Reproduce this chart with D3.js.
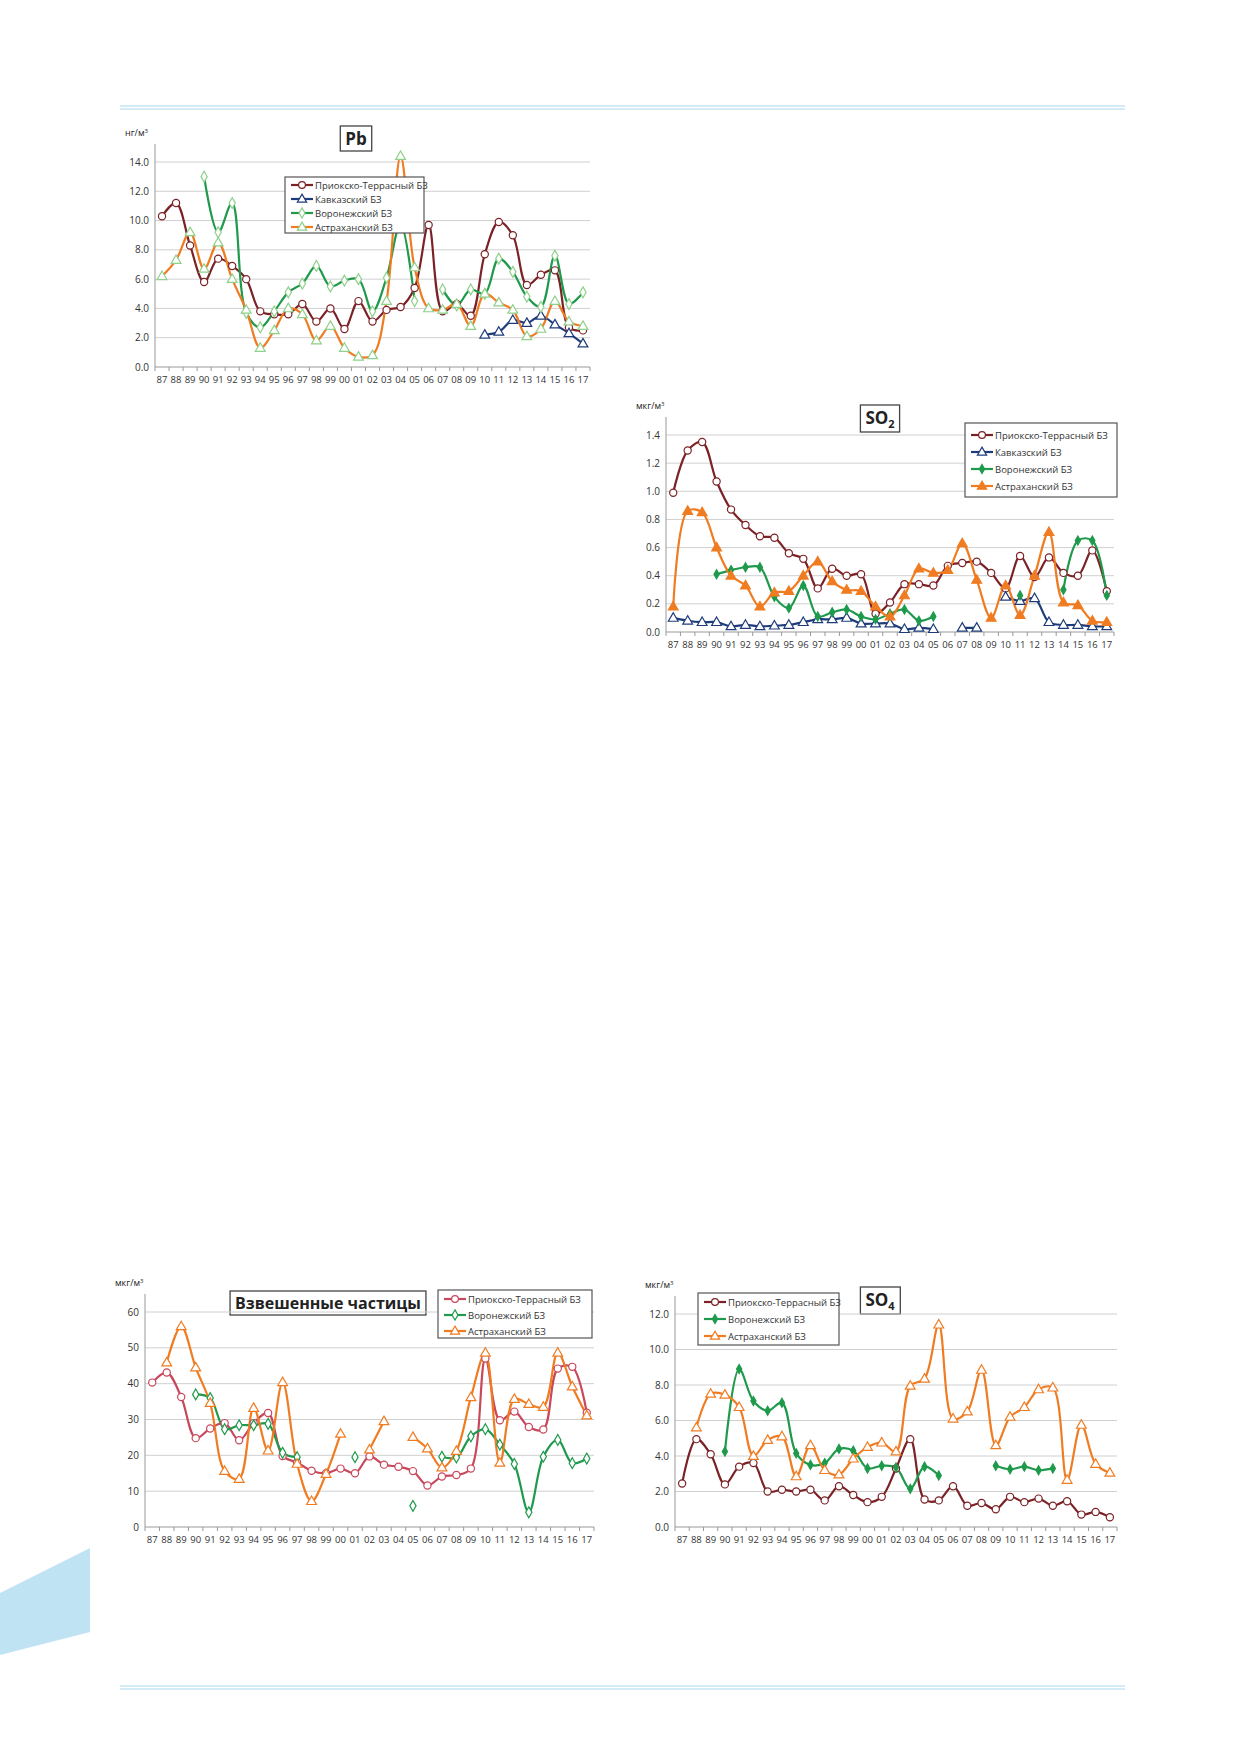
<!DOCTYPE html>
<html>
<head>
<meta charset="utf-8">
<script src="https://cdnjs.cloudflare.com/ajax/libs/d3/7.8.5/d3.min.js"></script>
<style>
  body { margin: 0; background: #fff; }
  text { font-family: "Open Sans", "DejaVu Sans", sans-serif; }
</style>
</head>
<body>
<svg id="page" width="1239" height="1752"></svg>
<script>
var years = ["87","88","89","90","91","92","93","94","95","96","97","98","99","00","01","02","03","04","05","06","07","08","09","10","11","12","13","14","15","16","17"];
var N = null;

// Pb, нг/м3
var pbPrioksko = [10.3,11.2,8.3,5.8,7.4,6.9,6.0,3.8,3.6,3.6,4.3,3.1,4.0,2.6,4.5,3.1,3.9,4.1,5.4,9.7,3.8,4.3,3.5,7.7,9.9,9.0,5.6,6.3,6.6,2.7,2.5];
var pbKavkaz = [N,N,N,N,N,N,N,N,N,N,N,N,N,N,N,N,N,N,N,N,N,N,N,2.2,2.4,3.2,3.0,3.5,2.9,2.3,1.6];
var pbVoronezh = [N,N,N,13.0,9.2,11.2,3.7,2.7,3.8,5.1,5.7,6.9,5.5,5.9,6.0,3.8,6.1,9.8,4.5,N,5.3,4.2,5.3,5.0,7.4,6.5,4.8,4.1,7.6,4.3,5.1];
var pbAstrakhan = [6.2,7.3,9.2,6.7,8.5,6.0,3.9,1.3,2.5,4.0,3.6,1.8,2.8,1.3,0.7,0.8,4.5,14.4,6.8,4.0,3.9,4.3,2.8,5.0,4.4,3.9,2.1,2.6,4.5,3.1,2.8];

// SO2, мкг/м3
var so2Prioksko = [0.99,1.29,1.35,1.07,0.87,0.76,0.68,0.67,0.56,0.52,0.31,0.45,0.40,0.41,0.13,0.21,0.34,0.34,0.33,0.47,0.49,0.50,0.42,0.31,0.54,0.39,0.53,0.42,0.40,0.58,0.29];
var so2Kavkaz = [0.10,0.08,0.07,0.07,0.04,0.05,0.04,0.045,0.05,0.07,0.09,0.09,0.10,0.06,0.06,0.06,0.02,0.03,0.02,N,0.03,0.03,N,0.25,0.22,0.24,0.07,0.05,0.05,0.04,0.04];
var so2Voronezh = [N,N,N,0.41,0.44,0.46,0.46,0.25,0.17,0.33,0.11,0.14,0.16,0.11,0.09,0.13,0.16,0.08,0.11,N,N,N,N,N,0.26,N,N,0.30,0.65,0.65,0.26];
var so2Astrakhan = [0.18,0.86,0.85,0.60,0.40,0.33,0.18,0.28,0.29,0.40,0.50,0.36,0.30,0.29,0.18,0.11,0.26,0.45,0.42,0.44,0.63,0.37,0.10,0.33,0.12,0.40,0.71,0.21,0.19,0.08,0.07];

// Взвешенные частицы, мкг/м3
var tspPrioksko = [40.3,43.1,36.3,24.8,27.5,29.0,24.2,29.0,31.8,19.8,18.0,15.7,15.0,16.3,15.0,19.7,17.4,16.8,15.6,11.6,14.1,14.5,16.3,47.0,29.8,32.2,27.9,27.2,44.2,44.7,31.9];
var tspVoronezh = [N,N,N,37.0,36.0,27.3,28.4,28.4,28.8,20.7,19.5,N,N,N,19.5,N,N,N,5.9,N,19.6,19.4,25.3,27.3,23.0,17.6,4.1,19.6,24.3,17.8,19.1];
var tspAstrakhan = [N,45.9,56.0,44.5,34.6,15.6,13.4,33.2,21.3,40.4,17.6,7.2,14.8,26.0,N,21.6,29.5,N,25.1,21.9,16.6,21.2,36.2,48.6,17.9,35.7,34.3,33.5,48.6,39.2,31.1];

// SO4, мкг/м3
var so4Prioksko = [2.45,4.95,4.1,2.4,3.4,3.6,2.0,2.1,2.0,2.1,1.5,2.3,1.8,1.4,1.7,3.3,4.95,1.55,1.5,2.3,1.2,1.35,1.0,1.7,1.4,1.6,1.2,1.45,0.7,0.85,0.55];
var so4Voronezh = [N,N,N,4.25,8.9,7.1,6.55,7.0,4.15,3.5,3.6,4.4,4.3,3.3,3.45,3.35,2.15,3.4,2.9,N,N,N,3.45,3.25,3.4,3.2,3.3,N,N,N,N];
var so4Astrakhan = [N,5.6,7.5,7.45,6.75,4.0,4.9,5.1,2.85,4.6,3.2,2.95,3.85,4.5,4.75,4.25,7.95,8.35,11.4,6.1,6.5,8.85,4.6,6.2,6.75,7.75,7.85,2.65,5.75,3.55,3.05];

var DARK = "#7b2226", NAVY = "#1f3c7a", GREEN = "#1f9a4c", ORANGE = "#f07c22", PINK = "#c8485c", LGREEN = "#8fd08a";

var svg = d3.select("#page");

// page rules
[[106, 109], [1686, 1689]].forEach(function(p) {
  p.forEach(function(y) {
    svg.append("line").attr("x1", 120).attr("x2", 1125).attr("y1", y).attr("y2", y)
      .attr("stroke", "#a9d8ee").attr("stroke-width", 1);
  });
});
svg.append("polygon").attr("points", "0,1593 90,1548 90,1632 0,1655").attr("fill", "#bfe3f3");

function marker(g, type, x, y, stroke, fill, r) {
  if (type == "circle") {
    g.append("circle").attr("cx", x).attr("cy", y).attr("r", r).attr("fill", fill).attr("stroke", stroke).attr("stroke-width", 1.2);
  } else {
    var sym = type == "triangle" ? d3.symbolTriangle : d3.symbolDiamond;
    var size = type == "triangle" ? r * r * 3.2 : r * r * 2.6;
    g.append("path").attr("d", d3.symbol().type(sym).size(size)())
      .attr("transform", "translate(" + x + "," + (type == "triangle" ? y + 0.5 : y) + ")")
      .attr("fill", fill).attr("stroke", stroke).attr("stroke-width", 1.2);
  }
}

function chart(c) {
  var g = svg.append("g");
  var x = d3.scalePoint().domain(years).range([c.left, c.right]).padding(0.5);
  var y = d3.scaleLinear().domain([0, c.max]).range([c.bottom, c.top]);
  var ticks = d3.range(0, c.max + c.step / 2, c.step);

  ticks.forEach(function(t) {
    g.append("line").attr("x1", c.left).attr("x2", c.right).attr("y1", y(t)).attr("y2", y(t))
      .attr("stroke", t == 0 ? "#999" : "#d0d0d0").attr("stroke-width", 1);
    g.append("text").attr("x", c.left - 6).attr("y", y(t) + 3.5).attr("text-anchor", "end")
      .attr("font-size", 10).attr("fill", "#333").text(d3.format(c.fmt)(t));
  });
  g.append("line").attr("x1", c.left).attr("x2", c.left).attr("y1", c.bottom).attr("y2", c.top - 18).attr("stroke", "#999");
  years.forEach(function(yr, i) {
    var xx = c.left + (c.right - c.left) / years.length * i;
    g.append("line").attr("x1", xx).attr("x2", xx).attr("y1", c.bottom).attr("y2", c.bottom + 4).attr("stroke", "#999");
    g.append("text").attr("x", x(yr)).attr("y", c.bottom + 16).attr("text-anchor", "middle")
      .attr("font-size", 9.5).attr("fill", "#333").text(yr);
  });
  g.append("line").attr("x1", c.right).attr("x2", c.right).attr("y1", c.bottom).attr("y2", c.bottom + 4).attr("stroke", "#999");

  var ul = g.append("text").attr("x", c.left - 30).attr("y", c.top - 26).attr("font-size", 9).attr("fill", "#222").text(c.unit);
  ul.append("tspan").attr("dy", -3).attr("font-size", 6).text("3");

  var line = d3.line().defined(function(d) { return d != null; })
    .x(function(d, i) { return x(years[i]); }).y(function(d) { return y(d); })
    .curve(d3.curveCatmullRom.alpha(0.5));

  c.series.forEach(function(s) {
    g.append("path").attr("d", line(s.data)).attr("fill", "none").attr("stroke", s.color).attr("stroke-width", 2.2);
  });
  c.series.forEach(function(s) {
    s.data.forEach(function(d, i) {
      if (d != null) marker(g, s.marker, x(years[i]), y(d), s.mstroke || s.color, s.mfill || "#fff", s.r || 3.6);
    });
  });

  // title
  var t = g.append("text").attr("x", c.titleX).attr("y", c.titleY + 6).attr("text-anchor", "middle")
    .attr("font-size", c.titleSize || 17).attr("font-weight", "bold").attr("fill", "#222").text(c.title);
  if (c.sub) t.append("tspan").attr("dy", 4).attr("font-size", 11).text(c.sub);
  var bb = t.node().getBBox();
  g.insert("rect", "text").attr("x", bb.x - 5).attr("y", bb.y - 1).attr("width", bb.width + 10).attr("height", bb.height + 2)
    .attr("fill", "#fff").attr("stroke", "#444").attr("stroke-width", 1.3);

  // legend
  var L = c.legend;
  var lg = svg.append("g");
  lg.append("rect").attr("x", L.x).attr("y", L.y).attr("width", L.w).attr("height", L.h)
    .attr("fill", "#fff").attr("stroke", "#555").attr("stroke-width", 1.2);
  c.series.forEach(function(s, i) {
    var yy = L.y + L.pad + i * L.gap;
    lg.append("line").attr("x1", L.x + 6).attr("x2", L.x + 28).attr("y1", yy).attr("y2", yy).attr("stroke", s.color).attr("stroke-width", 2.2);
    marker(lg, s.marker, L.x + 17, yy, s.mstroke || s.color, s.mfill || "#fff", s.r || 3.4);
    lg.append("text").attr("x", L.x + 30).attr("y", yy + 3.5).attr("font-size", 9.5).attr("fill", "#333").text(s.name);
  });
}

chart({
  left: 155, right: 590, bottom: 367, top: 162, max: 14, step: 2, fmt: ".1f", unit: "нг/м",
  title: "Pb", titleX: 356, titleY: 139,
  legend: { x: 285, y: 177, w: 139, h: 56, pad: 8, gap: 14 },
  series: [
    { name: "Приокско-Террасный БЗ", data: pbPrioksko, color: DARK, marker: "circle" },
    { name: "Кавказский БЗ", data: pbKavkaz, color: NAVY, marker: "triangle" },
    { name: "Воронежский БЗ", data: pbVoronezh, color: GREEN, marker: "diamond", mstroke: LGREEN },
    { name: "Астраханский БЗ", data: pbAstrakhan, color: ORANGE, marker: "triangle", mstroke: LGREEN }
  ]
});

chart({
  left: 666, right: 1114, bottom: 632, top: 435, max: 1.4, step: 0.2, fmt: ".1f", unit: "мкг/м",
  title: "SO", sub: "2", titleX: 880, titleY: 418,
  legend: { x: 965, y: 423, w: 152, h: 74, pad: 12, gap: 17 },
  series: [
    { name: "Приокско-Террасный БЗ", data: so2Prioksko, color: DARK, marker: "circle" },
    { name: "Кавказский БЗ", data: so2Kavkaz, color: NAVY, marker: "triangle" },
    { name: "Воронежский БЗ", data: so2Voronezh, color: GREEN, marker: "diamond", mfill: GREEN, r: 3 },
    { name: "Астраханский БЗ", data: so2Astrakhan, color: ORANGE, marker: "triangle", mfill: ORANGE }
  ]
});

chart({
  left: 145, right: 594, bottom: 1527, top: 1312, max: 60, step: 10, fmt: "d", unit: "мкг/м",
  title: "Взвешенные частицы", titleX: 328, titleY: 1303, titleSize: 16,
  legend: { x: 438, y: 1290, w: 154, h: 48, pad: 9, gap: 16 },
  series: [
    { name: "Приокско-Террасный БЗ", data: tspPrioksko, color: PINK, marker: "circle" },
    { name: "Воронежский БЗ", data: tspVoronezh, color: GREEN, marker: "diamond" },
    { name: "Астраханский БЗ", data: tspAstrakhan, color: ORANGE, marker: "triangle" }
  ]
});

chart({
  left: 675, right: 1117, bottom: 1527, top: 1314, max: 12, step: 2, fmt: ".1f", unit: "мкг/м",
  title: "SO", sub: "4", titleX: 880, titleY: 1300,
  legend: { x: 698, y: 1293, w: 141, h: 52, pad: 9, gap: 17 },
  series: [
    { name: "Приокско-Террасный БЗ", data: so4Prioksko, color: DARK, marker: "circle" },
    { name: "Воронежский БЗ", data: so4Voronezh, color: GREEN, marker: "diamond", mfill: GREEN, r: 3 },
    { name: "Астраханский БЗ", data: so4Astrakhan, color: ORANGE, marker: "triangle" }
  ]
});
</script>
</body>
</html>
